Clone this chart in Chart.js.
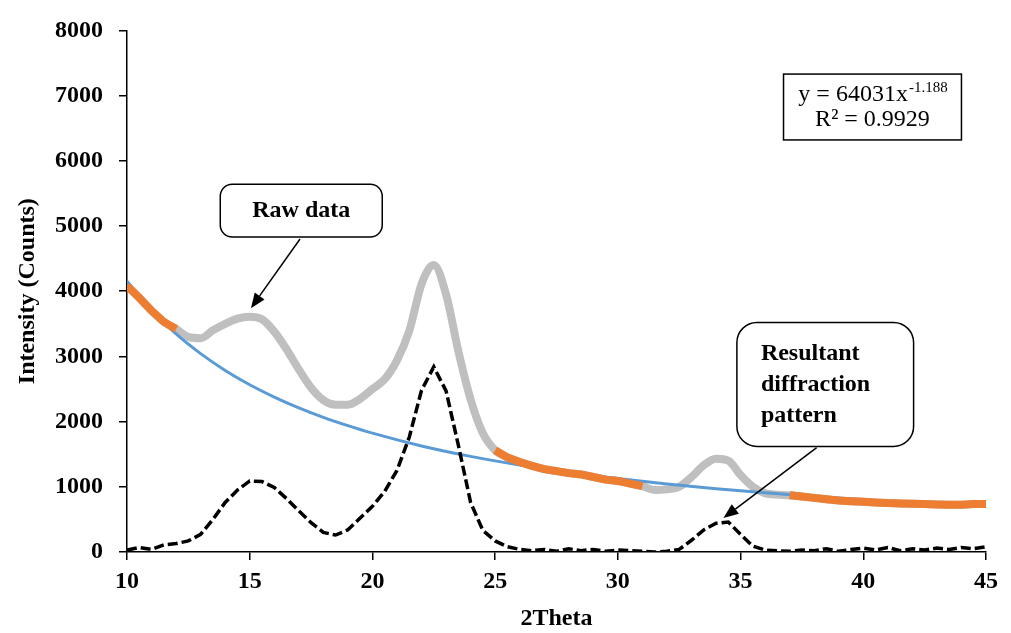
<!DOCTYPE html>
<html>
<head>
<meta charset="utf-8">
<script src="https://cdn.jsdelivr.net/npm/chart.js@4.4.1/dist/chart.umd.min.js"></script>
<style>
  body { margin: 0; background: #fff; }
  #wrap { width: 1011px; height: 633px; }
</style>
</head>
<body>
<div id="wrap"><canvas id="xrd-chart"></canvas></div>
<script>
// 2Theta sampling (deg)
const twoTheta = [10, 10.5, 11, 11.5, 12, 12.5, 13, 13.5, 14, 14.5, 15, 15.5, 16, 16.5, 17, 17.5, 18, 18.5, 19, 19.5,
  20, 20.5, 21, 21.5, 22, 22.5, 23, 23.5, 24, 24.5, 25, 25.5, 26, 26.5, 27, 27.5, 28, 28.5, 29, 29.5,
  30, 30.5, 31, 31.5, 32, 32.5, 33, 33.5, 34, 34.5, 35, 35.5, 36, 36.5, 37, 37.5, 38, 38.5, 39, 39.5,
  40, 40.5, 41, 41.5, 42, 42.5, 43, 43.5, 44, 44.5, 45];

// raw data (grey)
const rawCounts = [4080, 3900, 3700, 3530, 3420, 3300, 3280, 3400, 3500, 3580, 3610, 3570, 3380, 3110, 2800, 2520, 2330, 2260, 2260, 2350,
  2500, 2650, 2940, 3390, 4110, 4400, 3950, 3080, 2340, 1820, 1560, 1450, 1380, 1320, 1270, 1240, 1210, 1190, 1150, 1110,
  1090, 1050, 1010, 950, 960, 1000, 1150, 1330, 1430, 1400, 1180, 1000, 900, 880, 870, 850, 830, 810, 790, 780,
  770, 760, 750, 745, 740, 735, 730, 725, 725, 735, 735];

// background points used for the fit (orange), null where not used
const backgroundCounts = [4080, 3900, 3700, 3530, 3420, null, null, null, null, null, null, null, null, null, null, null, null, null, null, null,
  null, null, null, null, null, null, null, null, null, null, 1560, 1450, 1380, 1320, 1270, 1240, 1210, 1190, 1150, 1110,
  1090, 1050, 1010, null, null, null, null, null, null, null, null, null, null, null, 870, 850, 830, 810, 790, 780,
  770, 760, 750, 745, 740, 735, 730, 725, 725, 735, 735];

// resultant pattern after background removal (black dashed)
const resultantCounts = [30, 70, 40, 110, 130, 170, 270, 500, 760, 950, 1090, 1080, 990, 820, 630, 450, 300, 260, 340, 520,
  700, 930, 1250, 1760, 2480, 2840, 2470, 1640, 760, 330, 170, 80, 40, 20, 40, 10, 50, 20, 40, 10,
  30, 20, 10, 0, 10, 40, 180, 340, 440, 460, 270, 90, 30, 20, 10, 30, 20, 50, 10, 40,
  60, 30, 70, 20, 50, 30, 60, 40, 70, 50, 80];

// power trendline (blue)
const trendTheta = [10, 11, 12, 13, 14, 15, 16, 17, 18, 19, 20, 22, 24, 26, 28, 30, 32, 34, 36, 38, 40, 42, 45];
const trendCounts = [4153, 3709, 3345, 3042, 2785, 2566, 2377, 2212, 2066, 1938, 1823, 1627, 1467, 1334, 1222, 1126, 1043, 971, 907, 851, 800, 755, 696];

const xTicks = [10, 15, 20, 25, 30, 35, 40, 45];
const yTicks = [0, 1000, 2000, 3000, 4000, 5000, 6000, 7000, 8000];

const toPoints = (xs, ys) => xs.map((x, i) => ({ x: x, y: ys[i] }));

const SERIF = "'Liberation Serif', 'Times New Roman', serif";

// callouts, in data units
const rawBox = { x0: 13.8, x1: 20.4, yTop: 5640, yBot: 4830, text: 'Raw data' };
const rawArrow = { x0: 17.05, y0: 4800, x1: 15.05, y1: 3740 };
const resBox = { x0: 34.85, x1: 42.05, yTop: 3520, yBot: 1620, lines: ['Resultant', 'diffraction', 'pattern'] };
const resArrow = { x0: 38.1, y0: 1600, x1: 34.3, y1: 520 };
const eqBox = { x0: 36.75, x1: 44.0, yTop: 7330, yBot: 6320 };

function drawArrow(ctx, x0, y0, x1, y1) {
  const ang = Math.atan2(y1 - y0, x1 - x0);
  const head = 15, half = 6;
  ctx.strokeStyle = '#000';
  ctx.lineWidth = 1.5;
  ctx.beginPath();
  ctx.moveTo(x0, y0);
  ctx.lineTo(x1 - Math.cos(ang) * head, y1 - Math.sin(ang) * head);
  ctx.stroke();
  ctx.fillStyle = '#000';
  ctx.beginPath();
  ctx.moveTo(x1, y1);
  ctx.lineTo(x1 - Math.cos(ang) * head - Math.sin(ang) * half, y1 - Math.sin(ang) * head + Math.cos(ang) * half);
  ctx.lineTo(x1 - Math.cos(ang) * head + Math.sin(ang) * half, y1 - Math.sin(ang) * head - Math.cos(ang) * half);
  ctx.closePath();
  ctx.fill();
}

function roundBox(ctx, b, x, y, r) {
  const l = x.getPixelForValue(b.x0), rt = x.getPixelForValue(b.x1);
  const t = y.getPixelForValue(b.yTop), bt = y.getPixelForValue(b.yBot);
  ctx.fillStyle = '#fff';
  ctx.strokeStyle = '#000';
  ctx.lineWidth = 1.5;
  ctx.beginPath();
  ctx.roundRect(l, t, rt - l, bt - t, r);
  ctx.fill();
  ctx.stroke();
  return { l, rt, t, bt };
}

const callouts = {
  id: 'callouts',
  afterDatasetsDraw(chart) {
    const { ctx, scales: { x, y } } = chart;
    const px = (v) => x.getPixelForValue(v);
    const py = (v) => y.getPixelForValue(v);
    ctx.save();

    // Raw data
    drawArrow(ctx, px(rawArrow.x0), py(rawArrow.y0), px(rawArrow.x1), py(rawArrow.y1));
    let r = roundBox(ctx, rawBox, x, y, 12);
    ctx.fillStyle = '#000';
    ctx.font = 'bold 24px ' + SERIF;
    ctx.textAlign = 'center';
    ctx.textBaseline = 'middle';
    ctx.fillText(rawBox.text, (r.l + r.rt) / 2, (r.t + r.bt) / 2);

    // Resultant diffraction pattern
    drawArrow(ctx, px(resArrow.x0), py(resArrow.y0), px(resArrow.x1), py(resArrow.y1));
    r = roundBox(ctx, resBox, x, y, 20);
    ctx.fillStyle = '#000';
    ctx.textAlign = 'left';
    resBox.lines.forEach((s, i) => ctx.fillText(s, r.l + 24, r.t + 31 + i * 31));

    // trendline equation
    const l = px(eqBox.x0), rt = px(eqBox.x1), t = py(eqBox.yTop), bt = py(eqBox.yBot);
    ctx.fillStyle = '#fff';
    ctx.fillRect(l, t, rt - l, bt - t);
    ctx.strokeStyle = '#000';
    ctx.lineWidth = 1.5;
    ctx.strokeRect(l, t, rt - l, bt - t);
    ctx.fillStyle = '#000';
    const cx = (l + rt) / 2;
    ctx.font = '24px ' + SERIF;
    const main = 'y = 64031x';
    const sup = '-1.188';
    const mw = ctx.measureText(main).width;
    ctx.font = '15px ' + SERIF;
    const sw = ctx.measureText(sup).width;
    const start = cx - (mw + sw) / 2;
    ctx.textAlign = 'left';
    ctx.font = '24px ' + SERIF;
    ctx.fillText(main, start, t + 21);
    ctx.font = '15px ' + SERIF;
    ctx.fillText(sup, start + mw + 1, t + 14);
    ctx.font = '24px ' + SERIF;
    ctx.textAlign = 'center';
    ctx.fillText('R² = 0.9929', cx, t + 46);

    ctx.restore();
  }
};

const axisTitleFont = { family: SERIF, weight: 'bold', size: 24 };
const tickFont = { family: SERIF, weight: 'bold', size: 24 };

new Chart(document.querySelector('#xrd-chart').getContext('2d'), {
  type: 'line',
  data: {
    datasets: [
      {
        label: 'Resultant diffraction pattern',
        data: toPoints(twoTheta, resultantCounts),
        borderColor: '#000',
        borderWidth: 3.5,
        borderDash: [10, 4],
        pointRadius: 0,
        tension: 0
      },
      {
        label: 'Background',
        data: toPoints(twoTheta, backgroundCounts),
        borderColor: '#ED7D31',
        borderWidth: 8,
        pointRadius: 0,
        spanGaps: false,
        tension: 0
      },
      {
        label: 'Power fit',
        data: toPoints(trendTheta, trendCounts),
        borderColor: '#5B9BD5',
        borderWidth: 3,
        pointRadius: 0,
        cubicInterpolationMode: 'monotone'
      },
      {
        label: 'Raw data',
        data: toPoints(twoTheta, rawCounts),
        borderColor: '#BFBFBF',
        borderWidth: 8,
        pointRadius: 0,
        cubicInterpolationMode: 'monotone'
      }
    ]
  },
  options: {
    responsive: true,
    maintainAspectRatio: false,
    animation: false,
    layout: { padding: { left: 0, top: 24, right: 25, bottom: 0 } },
    plugins: { legend: { display: false }, tooltip: { enabled: false } },
    scales: {
      x: {
        type: 'linear',
        min: 10,
        max: 45,
        afterBuildTicks: (s) => { s.ticks = xTicks.map(v => ({ value: v })); },
        afterFit: (s) => { s.height = 81; },
        ticks: { color: '#000', font: tickFont, padding: 7, maxRotation: 0, callback: (v) => String(v) },
        grid: { drawOnChartArea: false, drawTicks: true, tickLength: 8, color: '#000', lineWidth: 1.5 },
        border: { color: '#000', width: 1.5 },
        title: { display: true, text: '2Theta', color: '#000', font: axisTitleFont, padding: { top: 0, bottom: 0 } }
      },
      y: {
        min: 0,
        max: 8000,
        afterBuildTicks: (s) => { s.ticks = yTicks.map(v => ({ value: v })); },
        afterFit: (s) => { s.width = 127; },
        ticks: { color: '#000', font: tickFont, padding: 16, callback: (v) => String(v) },
        grid: { drawOnChartArea: false, drawTicks: true, tickLength: 8, color: '#000', lineWidth: 1.5 },
        border: { color: '#000', width: 1.5 },
        title: { display: true, text: 'Intensity (Counts)', color: '#000', font: axisTitleFont, padding: { top: 13, bottom: 0 } }
      }
    }
  },
  plugins: [callouts]
});
</script>
</body>
</html>
